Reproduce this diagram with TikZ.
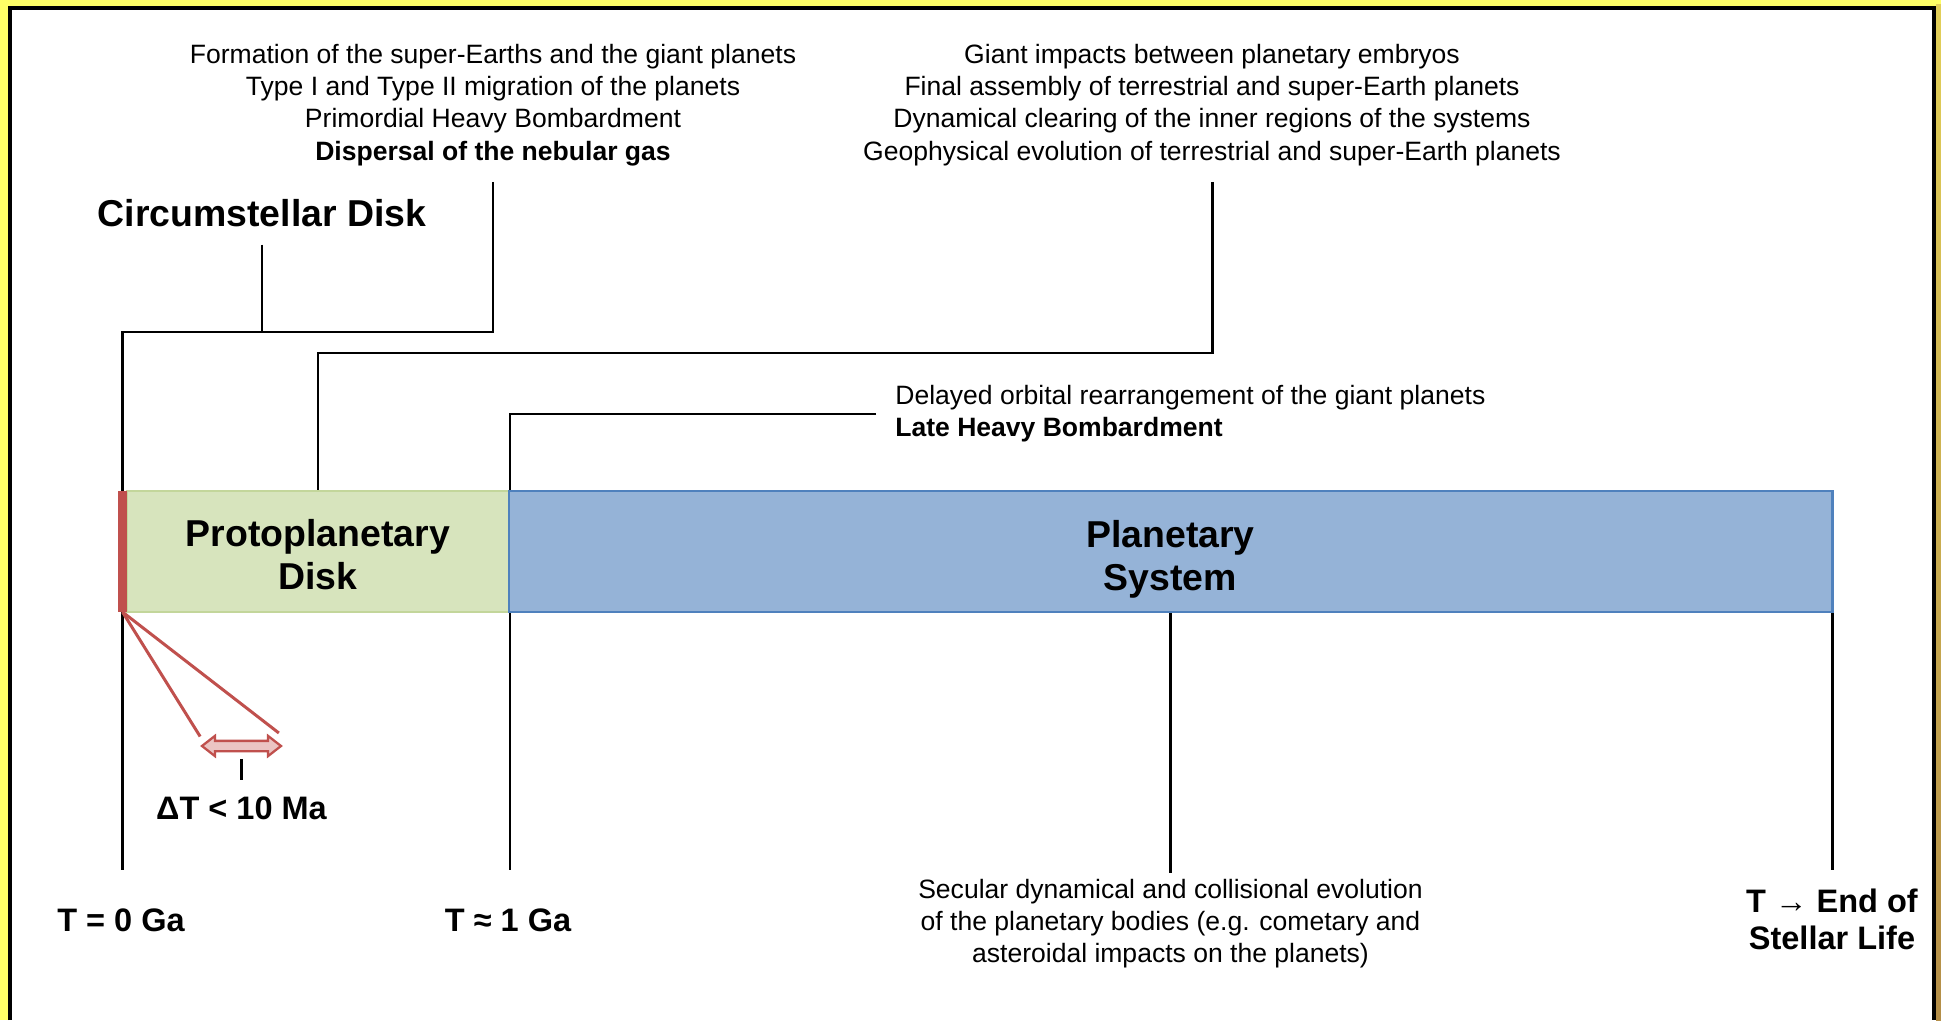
\documentclass[tikz,border=0pt]{standalone}
\usepackage{fontspec}
\setmainfont{Liberation Sans}
\usepackage{tikz}
\usetikzlibrary{shapes.arrows}

\definecolor{frameyellow}{HTML}{FFFF66}
\definecolor{framegoldtop}{HTML}{E2CF58}
\definecolor{framegoldbot}{HTML}{B48E48}
\definecolor{diskfill}{HTML}{D7E4BD}
\definecolor{diskline}{HTML}{C3D69B}
\definecolor{sysfill}{HTML}{95B3D7}
\definecolor{sysline}{HTML}{4F81BD}
\definecolor{flashred}{HTML}{C0504D}
\definecolor{flashpale}{HTML}{EBC4C3}

\begin{document}
\begin{tikzpicture}[
    link/.style={line width=1.7pt},
    flashline/.style={line width=1.7pt, flashred},
    note/.style={font=\fontsize{15.1}{18.3}\selectfont, align=center, inner sep=0pt},
    phase/.style={font=\fontsize{21.3}{24.6}\selectfont\bfseries, align=center, inner sep=0pt},
    band/.style={inner sep=0pt, outer sep=0pt, line width=1.7pt, minimum height=2.42cm},
    stamp/.style={font=\fontsize{18.5}{21}\selectfont\bfseries, align=center, inner sep=0pt},
    span/.style={double arrow, draw=flashred, fill=flashpale, line width=1.3pt, inner xsep=0pt,
        inner ysep=0.08cm, double arrow head extend=0.1cm, double arrow tip angle=76,
        minimum height=1.58cm}
]
    \useasboundingbox (0,0) rectangle (38.82,20.4);
    \fill[frameyellow] (0,0) rectangle (38.82,20.4);
    \shade[top color=framegoldtop, bottom color=framegoldbot] (38.72,0) rectangle (38.82,20.3);
    \fill[white] (0.24,0) rectangle (38.64,20.2);
    \draw[line width=2.3pt] (0.2,0) -- (0.2,20.24) -- (38.68,20.24) -- (38.68,0);

    \node[note, anchor=south] (form) at (9.86,17.08) {Formation of the super-Earths and the giant planets\\
        Type I and Type II migration of the planets\\Primordial Heavy Bombardment\\
        \textbf{Dispersal of the nebular gas}};
    \node[note, anchor=south] (giant) at (24.24,17.08) {Giant impacts between planetary embryos\\
        Final assembly of terrestrial and super-Earth planets\\
        Dynamical clearing of the inner regions of the systems\\
        Geophysical evolution of terrestrial and super-Earth planets};
    \node[note, align=left, anchor=west] (late) at (17.9,12.12) {Delayed orbital rearrangement of the giant planets\\
        \textbf{Late Heavy Bombardment}};
    \node[phase, anchor=base] (circ) at (5.24,15.87) {Circumstellar Disk};

    \node[stamp] (tzero) at (2.42,2.0) {T = 0 Ga};
    \node[stamp] (tone) at (10.16,2.0) {T ≈ 1 Ga};
    \node[stamp] (tend) at (36.64,2.01) {T → End of\\Stellar Life};
    \node[note] (secular) at (23.41,1.93) {Secular dynamical and collisional evolution\\
        of the planetary bodies (e.g. cometary and\\asteroidal impacts on the planets)};

    \coordinate (t0top) at (2.45,13.76);
    \coordinate (pdknee) at (6.36,13.34);

    \draw[link, shorten <=.32cm, shorten >=.77cm] (form.south) |- (t0top) -- (tzero.north -| t0top);
    \draw[link, shorten <=.35cm] (circ.south) -- (circ.south |- t0top);
    \draw[link, shorten <=.32cm] (giant.south) |- (pdknee) -- (6.36,10.58);
    \draw[link, shorten <=.38cm] (late.west) -| (10.2,10.58);
    \draw[link, shorten >=.77cm] (10.2,8.16) -- (tone.north -| 10.2,8.16);
    \draw[link, shorten >=.12cm] (23.41,8.16) -- (secular.north);
    \draw[link, shorten >=.38cm] (36.64,8.16) -- (tend.north);

    \node[band, fill=diskfill, draw=diskline, minimum width=7.64cm] (proto) at (6.36,9.37) {};
    \node[band, fill=sysfill, draw=sysline, minimum width=26.46cm] (plan) at (23.41,9.37) {};
    \node[band, fill=flashred, minimum width=0.18cm] (flash) at (2.45,9.37) {};
    \node[phase] (protoname) at (6.36,9.30) {Protoplanetary\\Disk};
    \node[phase] (planname) at (23.41,9.22) {Planetary\\System};

    \node[span] (span) at (4.83,5.48) {};
    \node[stamp] (dt) at (4.83,4.24) {ΔT < 10 Ma};
    \draw[flashline] (flash.south) -- ([yshift=0.19cm]span.west);
    \draw[flashline] (flash.south) -- ([shift={(-0.08cm,0.26cm)}]span.east);
    \draw[link, line width=1.4pt, shorten <=.13cm, shorten >=.33cm] (span.south) -- (dt.north);
\end{tikzpicture}
\end{document}
